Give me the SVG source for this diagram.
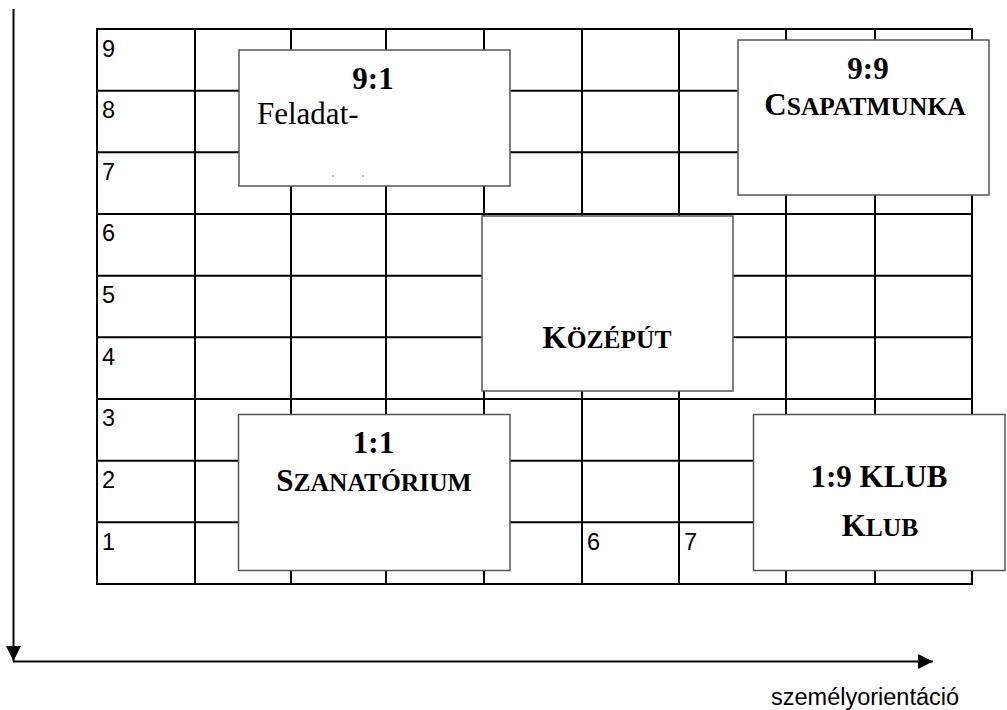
<svg xmlns="http://www.w3.org/2000/svg" width="1007" height="710" viewBox="0 0 1007 710">
<style>
.grid{stroke:#000;stroke-width:2;fill:none}
.box{fill:#fff;stroke:#555;stroke-width:1.5}
.num{font-family:"Liberation Sans",Arial,sans-serif;font-size:23.5px;fill:#000}
.t{font-family:"Liberation Serif","Times New Roman",serif;font-size:31px;fill:#000}
.b{font-weight:bold}
.sc{font-size:25.5px}
.axis{stroke:#000;stroke-width:2;fill:none}
</style>
<defs>
<marker id="arr" markerUnits="userSpaceOnUse" markerWidth="15" markerHeight="15" refX="15" refY="7.5" orient="auto" viewBox="0 0 15 15">
<path d="M0,0 L15,7.5 L0,15 z" fill="#000"/>
</marker>
</defs>
<rect width="1007" height="710" fill="#fff"/>
<g id="grid">
<rect class="grid" x="97" y="29" width="875" height="555"/>
<path class="grid" d="M195,29V584 M291,29V584 M386,29V584 M484,29V584 M582,29V584 M679,29V584 M786,29V584 M875,29V584"/>
<path class="grid" d="M97,90.7H972 M97,152.3H972 M97,214H972 M97,275.7H972 M97,337.3H972 M97,399H972 M97,460.7H972 M97,522.3H972"/>
<text class="num" x="102" y="57">9</text>
<text class="num" x="102" y="118">8</text>
<text class="num" x="102" y="180">7</text>
<text class="num" x="102" y="241">6</text>
<text class="num" x="102" y="303">5</text>
<text class="num" x="102" y="365">4</text>
<text class="num" x="102" y="426">3</text>
<text class="num" x="102" y="488">2</text>
<text class="num" x="102" y="550">1</text>
<text class="num" x="587" y="550">6</text>
<text class="num" x="684" y="550">7</text>
</g>
<g id="connectors">
<line class="axis" x1="13.5" y1="9" x2="13.5" y2="661" marker-end="url(#arr)"/>
<line class="axis" x1="13" y1="661.5" x2="933" y2="661.5" marker-end="url(#arr)"/>
</g>
<g id="node-9-1">
<rect class="box" x="239" y="50" width="271" height="136"/>
<text class="t b" x="373" y="89" text-anchor="middle">9:1</text>
<text class="t" x="257" y="124">Feladat-</text>
<rect x="332" y="175.5" width="2" height="1" fill="#888"/>
<rect x="362" y="175.5" width="2" height="1" fill="#888"/>
</g>
<g id="node-9-9">
<rect class="box" x="738" y="40" width="251" height="155"/>
<text class="t b" x="868" y="79" text-anchor="middle">9:9</text>
<text class="t b" x="865" y="115" text-anchor="middle">C<tspan class="sc">SAPATMUNKA</tspan></text>
</g>
<g id="node-kozeput">
<rect class="box" x="482" y="216" width="251" height="175"/>
<text class="t b" x="607" y="348" text-anchor="middle">K<tspan class="sc">ÖZÉPÚT</tspan></text>
</g>
<g id="node-1-1">
<rect class="box" x="238.5" y="414.5" width="271.5" height="156"/>
<text class="t b" x="373.5" y="453" text-anchor="middle">1:1</text>
<text class="t b" x="374" y="491" text-anchor="middle">S<tspan class="sc">ZANATÓRIUM</tspan></text>
</g>
<g id="node-1-9">
<rect class="box" x="753.5" y="414.5" width="251.5" height="156"/>
<text class="t b" x="879" y="487" text-anchor="middle">1:9 KLUB</text>
<text class="t b" x="880" y="536" text-anchor="middle">K<tspan class="sc">LUB</tspan></text>
</g>
<text class="num" x="771" y="705">személyorientáció</text>
</svg>
